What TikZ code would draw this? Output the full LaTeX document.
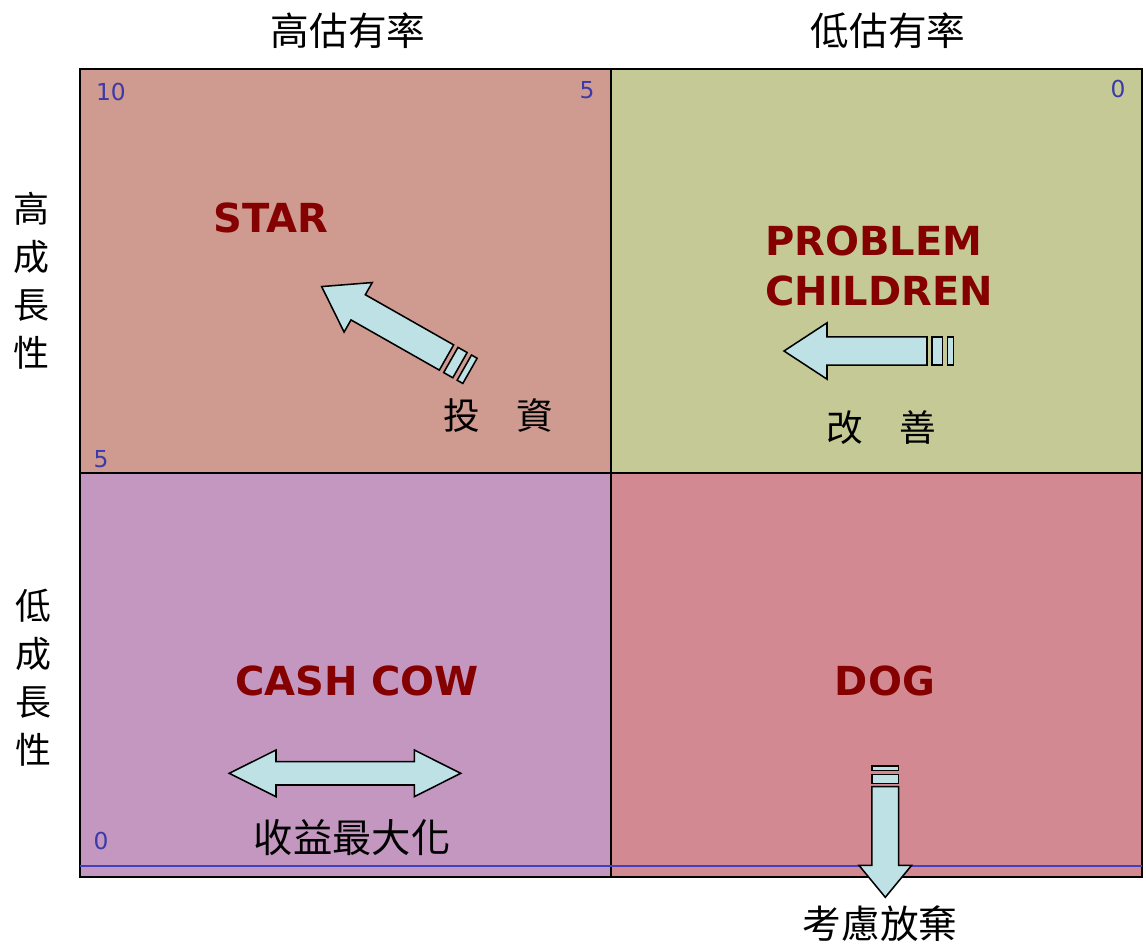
\documentclass[tikz,border=0pt]{standalone}
\usepackage{fontspec}
\newfontfamily\cjk{Noto Sans CJK TC}
\newfontfamily\dvs{DejaVu Sans}
\definecolor{qTL}{HTML}{CF9A8F}
\definecolor{qTR}{HTML}{C5C995}
\definecolor{qBL}{HTML}{C497C0}
\definecolor{qBR}{HTML}{D38992}
\definecolor{arrowfill}{HTML}{BDE1E4}
\definecolor{darkred}{HTML}{850000}
\definecolor{numblue}{HTML}{3A3AA8}
\definecolor{lineblue}{HTML}{4040C0}
\newcommand\myarrow[7]{%
  \begin{scope}[shift={(#1,#2)},rotate=#3]
    \draw[arrowbox] (0,{-#6/2}) -- ({#4-#5},{-#6/2}) -- ({#4-#5},{-#7/2}) -- (#4,0) -- ({#4-#5},{#7/2}) -- ({#4-#5},{#6/2}) -- (0,{#6/2}) -- cycle;
  \end{scope}}
\newcommand\mystripes[8]{%
  \begin{scope}[shift={(#1,#2)},rotate=#3]
    \draw[arrowbox] ({-#5},{-#4/2}) rectangle ({-#5-#6},{#4/2});
    \draw[arrowbox] ({-#5-#6-#7},{-#4/2}) rectangle ({-#5-#6-#7-#8},{#4/2});
  \end{scope}}
\begin{document}
\begin{tikzpicture}[x=0.75pt,y=-0.75pt,
  arrowbox/.style={draw=black,fill=arrowfill,line width=1.15pt,line join=miter},
  quad/.style={draw=black,line width=1.1pt},
  head/.style={font=\cjk\fontsize{29}{34}\selectfont},
  side/.style={font=\cjk\fontsize{27}{36}\selectfont,align=center},
  lbl/.style={font=\cjk\fontsize{27.5}{32}\selectfont},
  big/.style={font=\dvs\bfseries\fontsize{30}{37}\selectfont,text=darkred,align=center},
  num/.style={font=\dvs\fontsize{17.5}{20}\selectfont,text=numblue}]
\useasboundingbox (0,0) rectangle (1146,945);
% quadrants
\fill[qTL] (80,69) rectangle (611,473);
\fill[qTR] (611,69) rectangle (1142,473);
\fill[qBL] (80,473) rectangle (611,877);
\fill[qBR] (611,473) rectangle (1142,877);
\draw[quad] (611,69) -- (611,877);
\draw[quad] (80,473) -- (1142,473);
\draw[line width=1.5pt] (80,69) rectangle (1142,877);
\draw[lineblue,line width=1.2pt] (80,866) -- (1142,866);
% headers
\node[head] (h1) at (348,31) {高估有率};
\node[head] (h2) at (888,31) {低估有率};
\node[side] (v1) at (31,281) {高\\成\\長\\性};
\node[side] (v2) at (33,678) {低\\成\\長\\性};
% numbers
\node[num] (n10) at (111,92) {10};
\node[num] (n5a) at (587,90) {5};
\node[num] (n0a) at (1118,89) {0};
\node[num] (n5b) at (101,459) {5};
\node[num] (n0b) at (101,841) {0};
% big labels
\node[big] (star) at (271,218) {STAR};
\node[big,align=left,anchor=west,inner sep=0pt] (prob) at (765,266) {PROBLEM\\CHILDREN};
\node[big] (cash) at (357,681) {CASH COW};
\node[big] (dog) at (885,681) {DOG};
% arrows
\myarrow{446.5}{357.5}{150.4}{143.6}{42}{29}{57}
\mystripes{446.5}{357.5}{150.4}{29}{5}{10.5}{5}{6.5}
\myarrow{927}{351}{180}{143}{43}{28.3}{56.3}
\mystripes{927}{351}{180}{28.3}{5}{10.5}{5}{6}
\myarrow{885.3}{786.7}{-90}{110.6}{32}{26.7}{52.7}
\mystripes{885.3}{786.7}{-90}{26.7}{3.4}{9}{3.6}{4.7}
\draw[arrowbox] (229.3,773.3) -- (276,750) -- (276,761.7) -- (414.3,761.7) -- (414.3,750) -- (460.7,773.3) -- (414.3,796.7) -- (414.3,785) -- (276,785) -- (276,796.7) -- cycle;
% small labels
\node[lbl] (l1) at (498,416) {投　資};
\node[lbl] (l2) at (881,428) {改　善};
\node[lbl,font=\cjk\fontsize{29.5}{34}\selectfont] (l3) at (352,838) {收益最大化};
\node[head] (l4) at (880,924) {考慮放棄};
\end{tikzpicture}
\end{document}
